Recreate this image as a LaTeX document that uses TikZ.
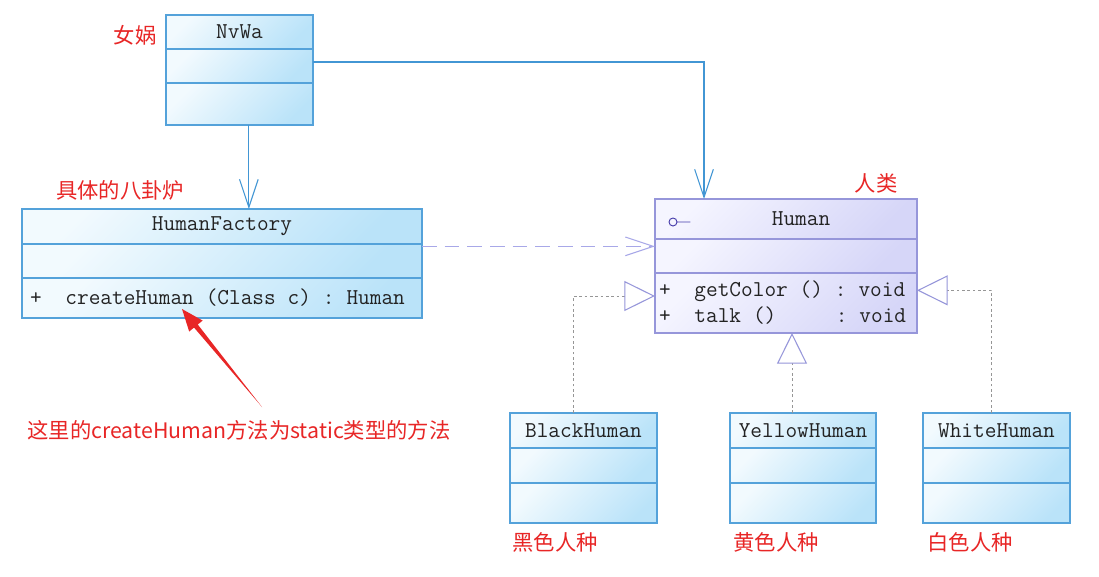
\documentclass[tikz,border=0pt]{standalone}
\usepackage{fontspec}
\newfontfamily\cjk{Noto Sans CJK SC}
\usetikzlibrary{arrows.meta,positioning,calc}

\definecolor{clsline}{RGB}{84,162,218}
\definecolor{clsA}{RGB}{242,250,254}
\definecolor{clsB}{RGB}{186,227,249}
\definecolor{ifcline}{RGB}{150,150,218}
\definecolor{ifcA}{RGB}{245,245,255}
\definecolor{ifcB}{RGB}{214,214,248}
\definecolor{assocline}{RGB}{66,150,212}
\definecolor{depline}{RGB}{168,168,232}
\definecolor{realline}{RGB}{150,150,150}
\definecolor{notered}{RGB}{232,38,38}
\definecolor{umltext}{RGB}{35,35,35}

\newlength\pxu \setlength\pxu{0.75pt}
\newcommand\umlfont{\ttfamily\fontsize{17}{19.5}\selectfont}
\newcommand\tsp{\hspace*{0.525em}}

\begin{document}
\begin{tikzpicture}[
    x=0.75pt, y=-0.75pt,
    cls/.style={draw=clsline, line width=0.9pt, left color=clsA, right color=clsB, shading angle=45,
        inner sep=0pt, outer sep=0pt, text=umltext, font=\umlfont},
    ifc/.style={cls, draw=ifcline, left color=ifcA, right color=ifcB, shading angle=45},
    lbl/.style={text=notered, font=\cjk\fontsize{16}{18}\selectfont, inner sep=0pt},
    assoc/.style={draw=assocline, line width=0.8pt, -{Straight Barb[length=21pt, width=14pt]}},
    dep/.style={draw=depline, line width=0.8pt, dash pattern=on 11pt off 6pt, -{Straight Barb[length=21pt, width=14pt]}},
    real/.style={draw=realline, line width=0.6pt, dash pattern=on 2pt off 2pt,
        -{Triangle[length=23pt, width=22.5pt, color=ifcline, fill=white, line width=0.8pt]}},
]
\fill[white] (0,0) rectangle (1099,576);
\useasboundingbox (0,0) rectangle (1099,576);

% NvWa
\node[cls, anchor=north west, minimum width=147\pxu, minimum height=34\pxu] (nvwa) at (166,15) {NvWa};
\node[cls, below=0pt of nvwa, minimum width=147\pxu, minimum height=34\pxu] (nvwa-a) {};
\node[cls, below=0pt of nvwa-a, minimum width=147\pxu, minimum height=42\pxu] (nvwa-m) {};

% HumanFactory
\node[cls, anchor=north west, minimum width=400\pxu, minimum height=35\pxu] (fac) at (22,209) {HumanFactory};
\node[cls, below=0pt of fac, minimum width=400\pxu, minimum height=34\pxu] (fac-a) {};
\node[cls, below=0pt of fac-a, minimum width=400\pxu, minimum height=40\pxu, text width=384\pxu, align=left] (fac-m)
    {+\tsp\tsp createHuman\tsp(Class\tsp c)\tsp:\tsp Human};

% Human
\node[ifc, anchor=north west, minimum width=262\pxu, minimum height=40\pxu] (human) at (655,199) {\hspace*{22.5pt}Human};
\node[ifc, below=0pt of human, minimum width=262\pxu, minimum height=34\pxu] (human-a) {};
\node[ifc, below=0pt of human-a, minimum width=262\pxu, minimum height=60\pxu, text width=254\pxu, align=left] (human-m)
    {+\tsp\tsp getColor\tsp()\tsp:\tsp void\\+\tsp\tsp talk\tsp()\tsp\tsp\tsp\tsp\tsp:\tsp void};
\draw[draw={rgb,255:red,70;green,60;blue,170}, line width=0.7pt] ([xshift=13.5pt,yshift=-2.25pt]human.west) coordinate (ic) circle (3pt)
    ([xshift=3pt]ic) -- ++(10pt,0);

% subclasses
\node[cls, anchor=north west, minimum width=147\pxu, minimum height=35\pxu] (black) at (510,413) {BlackHuman};
\node[cls, below=0pt of black, minimum width=147\pxu, minimum height=35\pxu] (black-a) {};
\node[cls, below=0pt of black-a, minimum width=147\pxu, minimum height=40\pxu] (black-m) {};

\node[cls, anchor=north west, minimum width=146\pxu, minimum height=35\pxu] (yellow) at (730,413) {YellowHuman};
\node[cls, below=0pt of yellow, minimum width=146\pxu, minimum height=35\pxu] (yellow-a) {};
\node[cls, below=0pt of yellow-a, minimum width=146\pxu, minimum height=40\pxu] (yellow-m) {};

\node[cls, anchor=north west, minimum width=147\pxu, minimum height=35\pxu] (white) at (923,413) {WhiteHuman};
\node[cls, below=0pt of white, minimum width=147\pxu, minimum height=35\pxu] (white-a) {};
\node[cls, below=0pt of white-a, minimum width=147\pxu, minimum height=40\pxu] (white-m) {};

% red labels
\node[lbl] (l-nvwa) at (135,35) {女娲};
\node[lbl] (l-fac) at (120,190) {具体的八卦炉};
\node[lbl] (l-human) at (876,183) {人类};
\node[lbl] (l-black) at (555,542) {黑色人种};
\node[lbl] (l-yellow) at (776,542) {黄色人种};
\node[lbl] (l-white) at (970,542) {白色人种};
\node[lbl] (note) at (239,430) {这里的createHuman方法为static类型的方法};

% connectors
\coordinate (a1) at ([xshift=7pt]nvwa-m.south);
\draw[assoc] (a1) -- (a1 |- fac.north);
\coordinate (a2) at ([yshift=3pt]nvwa-a.east);
\coordinate (a3) at ([xshift=36.75pt]human.north west);
\draw[assoc] (a2) -| (a3);

\coordinate (d1) at ([yshift=11pt]fac-a.east);
\draw[dep] (d1) -- (d1 -| human.west);

\coordinate (r1) at ([xshift=-7.5pt]black.north);
\coordinate (r2) at ([yshift=-3.75pt]human-m.north west);
\draw[real] (r1) |- ([yshift=-13.5pt]r2);
\coordinate (r3) at ([xshift=-8.25pt]yellow.north);
\draw[real] (r3) -- (r3 |- human-m.south);
\coordinate (r4) at ([xshift=-4pt]white.north);
\coordinate (r5) at ([yshift=-13pt]human-m.north east);
\draw[real] (r4) |- (r5);

% red pointer
\coordinate (mark) at (262,407);
\coordinate (tip) at (182,309);
\coordinate (hb) at ($(tip)!16.5pt!(mark)$);
\fill[notered] (mark) -- ($(hb)!1.8pt!90:(tip)$) -- ($(hb)!6.5pt!90:(tip)$) -- (tip)
    -- ($(hb)!6.5pt!-90:(tip)$) -- ($(hb)!1.8pt!-90:(tip)$) -- cycle;
\end{tikzpicture}
\end{document}
